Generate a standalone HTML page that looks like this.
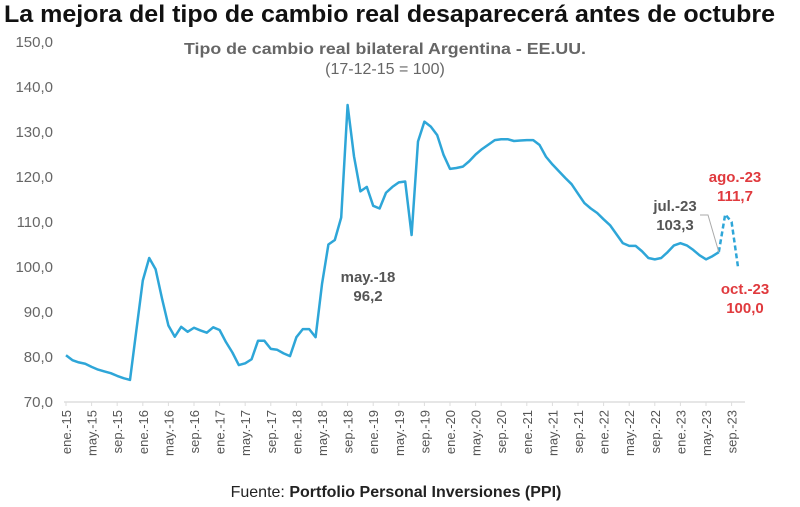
<!DOCTYPE html>
<html><head><meta charset="utf-8"><style>
body{margin:0;background:#fff;width:800px;height:502px;overflow:hidden;font-family:"Liberation Sans",sans-serif}
</style></head><body>
<svg id="chart" width="800" height="502" xmlns="http://www.w3.org/2000/svg" font-family="Liberation Sans, sans-serif">
<text x="4" y="22" font-size="24" font-weight="bold" fill="#111" textLength="771" lengthAdjust="spacingAndGlyphs">La mejora del tipo de cambio real desaparecerá antes de octubre</text>
<text x="385" y="54" font-size="16" font-weight="bold" fill="#666" text-anchor="middle" textLength="402" lengthAdjust="spacingAndGlyphs">Tipo de cambio real bilateral Argentina - EE.UU.</text>
<text x="385" y="74" font-size="16" fill="#666" text-anchor="middle">(17-12-15 = 100)</text>
<g id="yaxis"></g>
<g id="xaxis"></g>
<g id="series"></g>
<g id="ann"></g>
<text x="396" y="497" font-size="16" fill="#222" text-anchor="middle">Fuente: <tspan font-weight="bold">Portfolio Personal Inversiones (PPI)</tspan></text>
</svg>
<script>
const values=[80.4,79.3,78.8,78.5,77.8,77.2,76.8,76.4,75.8,75.3,74.9,86,97,102,99.5,93,87,84.5,86.7,85.6,86.5,85.9,85.4,86.6,86,83.3,81,78.2,78.6,79.5,83.6,83.6,81.8,81.6,80.8,80.2,84.4,86.2,86.2,84.4,96.2,105,106,111,136,124.6,116.8,117.8,113.6,113,116.5,117.8,118.8,119,107.1,127.9,132.3,131.2,129.3,124.9,121.8,122,122.3,123.5,125,126.2,127.2,128.2,128.4,128.4,128,128.1,128.2,128.2,127.1,124.5,122.8,121.3,119.8,118.4,116.3,114.2,113,112,110.6,109.3,107.3,105.3,104.7,104.7,103.5,102,101.7,102,103.3,104.8,105.3,104.8,103.8,102.6,101.7,102.4,103.3];
const projection=[103.3,111.7,110,100];
const projStart=102;
const yTicks=[70,80,90,100,110,120,130,140,150];
const monthNames=["ene.","feb.","mar.","abr.","may.","jun.","jul.","ago.","sep.","oct.","nov.","dic."];
const NS="http://www.w3.org/2000/svg";
function x(m){return 66+m*6.4;}
function y(v){return 402-(v-70)*4.5;}
function el(t,a,p){const e=document.createElementNS(NS,t);for(const k in a)e.setAttribute(k,a[k]);p.appendChild(e);return e;}
const ya=document.getElementById('yaxis');
yTicks.forEach(v=>{const t=el('text',{x:53,y:y(v)+5,'font-size':15,fill:'#666','text-anchor':'end'},ya);


t.textContent=v.toFixed(1).replace('.',',');});
const xa=document.getElementById('xaxis');
const ax=el('line',{x1:64,x2:745,y1:402,y2:402,stroke:'#ddd','stroke-width':1.5},xa);


for(let m=0;m<=104;m+=4){
const tk=el('line',{x1:x(m),x2:x(m),y1:402,y2:406,stroke:'#ddd'},xa);


const lab=monthNames[m%12]+'-'+(15+Math.floor(m/12));
const t=el('text',{transform:`translate(${x(m)+5},410) rotate(-90)`,'font-size':13,fill:'#555','text-anchor':'end'},xa);


t.textContent=lab;}
const s=document.getElementById('series');
const p=el('polyline',{points:values.map((v,i)=>x(i)+','+y(v)).join(' '),fill:'none',stroke:'#2ea6d8','stroke-width':2.5,'stroke-linejoin':'round'},s);


const pp=el('polyline',{points:projection.map((v,i)=>x(projStart+i)+','+y(v)).join(' '),fill:'none',stroke:'#2ea6d8','stroke-width':2.5,'stroke-dasharray':'5,3'},s);


const an=document.getElementById('ann');
function lbl(tx,ty,a,b,c,name){const t=el('text',{x:tx,y:ty,'font-size':15,'font-weight':'bold',fill:c,'text-anchor':'middle'},an);


el('tspan',{x:tx,dy:0},t).textContent=a;el('tspan',{x:tx,dy:19},t).textContent=b;}
lbl(368,282,'may.-18','96,2','#555','label-may-18');
lbl(675,211,'jul.-23','103,3','#555','label-jul-23');
lbl(735,182,'ago.-23','111,7','#e03a3e','label-ago-23');
lbl(745,294,'oct.-23','100,0','#e03a3e','label-oct-23');
const ld=el('polyline',{points:`700,215 708,215 ${x(102)},${y(values[102])}`,fill:'none',stroke:'#aaa','stroke-width':1},an);


</script>
</body></html>
